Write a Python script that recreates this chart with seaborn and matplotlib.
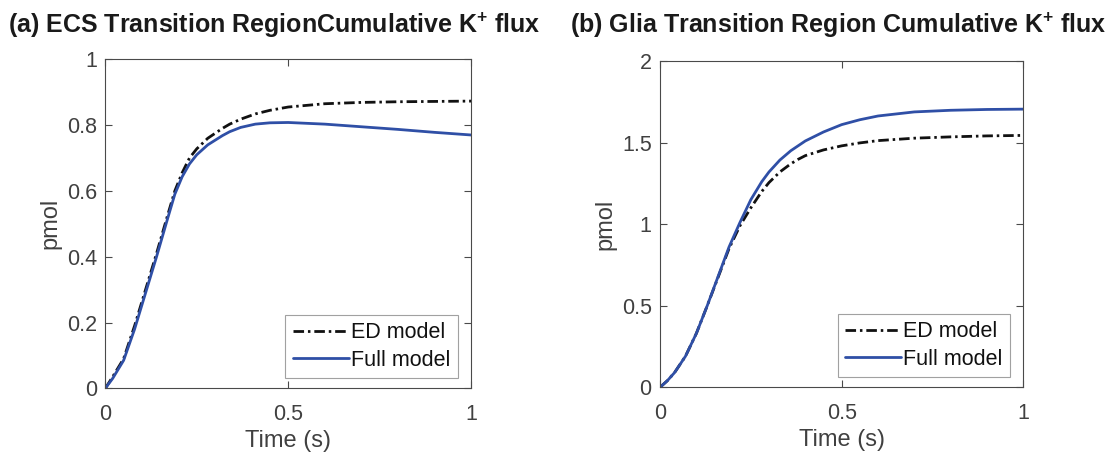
import numpy as np
import pandas as pd
import matplotlib
matplotlib.use("Agg")
import matplotlib.pyplot as plt
import seaborn as sns

# Time samples and cumulative K+ flux (pmol)
t_ecs = [0, 0.02, 0.05, 0.08, 0.11, 0.14, 0.17, 0.19, 0.21, 0.23, 0.25, 0.28,
         0.32, 0.34, 0.37, 0.41, 0.45, 0.5, 0.6, 0.7, 0.8, 0.9, 1.0]
ecs_ed = [0, 0.035, 0.09, 0.19, 0.30, 0.41, 0.525, 0.60, 0.655, 0.70, 0.728, 0.76,
          0.79, 0.803, 0.818, 0.834, 0.845, 0.855, 0.865, 0.869, 0.871, 0.872, 0.873]
ecs_full = [0, 0.03, 0.085, 0.18, 0.29, 0.40, 0.515, 0.59, 0.643, 0.682, 0.71, 0.74,
            0.768, 0.78, 0.793, 0.803, 0.807, 0.808, 0.803, 0.795, 0.787, 0.778, 0.77]

t_glia = [0, 0.02, 0.04, 0.07, 0.1, 0.13, 0.16, 0.19, 0.22, 0.25, 0.28, 0.30,
          0.33, 0.36, 0.38, 0.40, 0.45, 0.5, 0.55, 0.6, 0.7, 0.8, 0.9, 1.0]
glia_ed = [0, 0.04, 0.09, 0.19, 0.33, 0.50, 0.675, 0.85, 0.99, 1.10, 1.20, 1.255,
           1.32, 1.37, 1.397, 1.42, 1.455, 1.48, 1.498, 1.512, 1.527, 1.535, 1.541, 1.544]
glia_full = [0, 0.04, 0.09, 0.19, 0.33, 0.50, 0.68, 0.86, 1.01, 1.15, 1.26, 1.32,
             1.393, 1.45, 1.48, 1.51, 1.565, 1.61, 1.64, 1.663, 1.688, 1.698, 1.703, 1.705]

series_names = ["ED model", "Full model"]
titles = ["(a) ECS Transition RegionCumulative $\\mathbf{K^{+}}$ flux",
          "(b) Glia Transition Region Cumulative $\\mathbf{K^{+}}$ flux"]
x_ticks = [0, 0.5, 1]
x_tick_labels = ["0", "0.5", "1"]
y_ticks_a = [0, 0.2, 0.4, 0.6, 0.8, 1.0]
y_tick_labels_a = ["0", "0.2", "0.4", "0.6", "0.8", "1"]
y_ticks_b = [0, 0.5, 1.0, 1.5, 2.0]
y_tick_labels_b = ["0", "0.5", "1", "1.5", "2"]

sns.set_theme(style="white")
plt.rcParams["font.family"] = ["Liberation Sans", "DejaVu Sans"]
plt.rcParams["mathtext.fontset"] = "custom"
plt.rcParams["mathtext.rm"] = "Liberation Sans"
plt.rcParams["mathtext.bf"] = "Liberation Sans:bold"

TICK_COLOR = "#404040"
EDGE_COLOR = "#4a4a4a"
BLUE = "#2f4fa6"

fig = plt.figure(figsize=(11.10, 4.57), dpi=100)
ax_a = fig.add_axes([0.0949, 0.1503, 0.3295, 0.7199])
ax_b = fig.add_axes([0.5946, 0.1525, 0.3273, 0.7140])


def long_form(t, ed, full):
    return pd.DataFrame({
        "t": list(t) + list(t),
        "v": list(ed) + list(full),
        "model": [series_names[0]] * len(t) + [series_names[1]] * len(t),
    })


panels = [
    (ax_a, long_form(t_ecs, ecs_ed, ecs_full), (0, 1), y_ticks_a, y_tick_labels_a),
    (ax_b, long_form(t_glia, glia_ed, glia_full), (0, 2), y_ticks_b, y_tick_labels_b),
]

for ax, df, ylim, yt, ytl in panels:
    sns.lineplot(data=df, x="t", y="v", hue="model", style="model",
                 hue_order=series_names, style_order=series_names,
                 palette={"ED model": "#111111", "Full model": BLUE},
                 dashes={"ED model": (3.8, 1.4, 0.9, 1.4), "Full model": ""},
                 linewidth=2.0, sort=False, estimator=None, ax=ax)
    ax.set_xlim(0, 1)
    ax.set_ylim(*ylim)
    ax.set_xticks(x_ticks)
    ax.set_xticklabels(x_tick_labels)
    ax.set_yticks(yt)
    ax.set_yticklabels(ytl)
    ax.tick_params(direction="in", length=5, width=0.8, colors=EDGE_COLOR,
                   labelcolor=TICK_COLOR, labelsize=15.5, top=True, right=True,
                   bottom=True, left=True)
    ax.tick_params(axis="x", pad=11)
    ax.tick_params(axis="y", pad=6)
    for sp in ax.spines.values():
        sp.set_visible(True)
        sp.set_color(EDGE_COLOR)
        sp.set_linewidth(0.8)
    ax.set_xlabel("Time (s)", fontsize=17, color=TICK_COLOR)
    ax.set_ylabel("pmol", fontsize=17, color=TICK_COLOR)
    ax.xaxis.set_label_coords(0.5, -0.127)
    ax.yaxis.set_label_coords(-0.12, 0.5)
    leg = ax.legend(loc="lower right", bbox_to_anchor=(0.964, 0.031),
                    fontsize=15.5, frameon=True, fancybox=False,
                    handlelength=2.6, handletextpad=0.1, borderpad=0.35,
                    labelspacing=0.3, borderaxespad=0)
    leg.get_frame().set_edgecolor("#8a8a8a")
    leg.get_frame().set_linewidth(0.8)
    for txt in leg.get_texts():
        txt.set_color("#111111")
    for ln in leg.get_lines():
        ln.set_linewidth(2.0)

fig.text(8 / 1110, 1 - 25 / 457, titles[0], fontsize=18, fontweight="bold",
         color="#1a1a1a", ha="left", va="center")
fig.text(570 / 1110, 1 - 25 / 457, titles[1], fontsize=18, fontweight="bold",
         color="#1a1a1a", ha="left", va="center")

fig.savefig("out.png", dpi=100, facecolor="white")
